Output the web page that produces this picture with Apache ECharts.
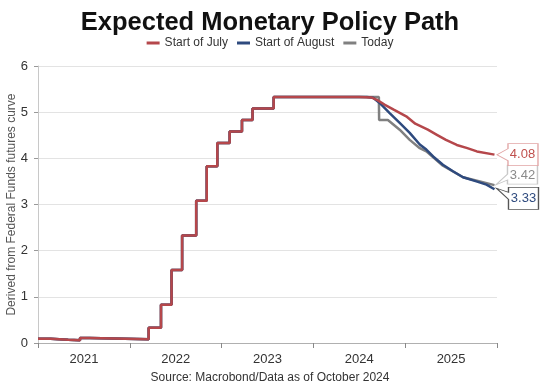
<!DOCTYPE html>
<html><head><meta charset="utf-8">
<script src="https://cdn.jsdelivr.net/npm/echarts@6/dist/echarts.min.js"></script>
<style>html,body{margin:0;padding:0;background:#fff}#c{width:540px;height:386px}</style>
</head><body><div id="c"></div>
<script>
// ---- data ----
const titleText = 'Expected Monetary Policy Path';
const sourceText = 'Source: Macrobond/Data as of October 2024';
const yAxisName = 'Derived from Federal Funds futures curve';
const seriesNames = ['Start of July', 'Start of August', 'Today'];
const yearLabels = ['2021', '2022', '2023', '2024', '2025'];
const yMin = 0, yMax = 6, yStep = 1;
const xMin = 2021, xMax = 2026;

// shared realized history (effective rate levels, each holds from its date)
const histDates = ['2021-01-01','2021-02-20','2021-05-01','2021-06-17','2021-07-26','2022-03-17','2022-05-05','2022-06-16','2022-07-28','2022-09-22','2022-11-03','2022-12-15','2023-02-02','2023-03-23','2023-05-04','2023-07-27'];
const histValues = [0.09, 0.07, 0.06, 0.11, 0.08, 0.33, 0.83, 1.58, 2.33, 3.08, 3.83, 4.33, 4.58, 4.83, 5.08, 5.33];

// Start of July curve
const julyCutoff = '2024-07-01';
const julyDates = ['2024-07-01','2024-08-19','2024-09-12','2024-10-12','2024-11-18','2025-01-05','2025-02-10','2025-04-01','2025-05-07','2025-06-12','2025-07-25','2025-09-05','2025-10-13','2025-12-22'];
const julyValues = [5.33, 5.32, 5.26, 5.16, 5.05, 4.91, 4.75, 4.62, 4.51, 4.40, 4.29, 4.22, 4.15, 4.08];

// Start of August curve
const augCutoff = '2024-08-01';
const augDates = ['2024-08-01','2024-08-26','2024-09-21','2024-10-31','2024-12-10','2025-01-19','2025-02-28','2025-03-26','2025-04-22','2025-05-31','2025-07-10','2025-08-19','2025-10-11','2025-11-20','2025-12-22'];
const augValues = [5.33, 5.31, 5.20, 4.98, 4.77, 4.55, 4.30, 4.19, 4.04, 3.86, 3.72, 3.59, 3.50, 3.43, 3.33];

// Today curve
const todayCutoff = '2024-09-18';
const todayDates = ['2024-09-18','2024-09-19','2024-10-24','2024-12-10','2025-01-19','2025-02-28','2025-03-26','2025-05-31','2025-08-19','2025-10-25','2025-12-22'];
const todayValues = [5.33, 4.83, 4.83, 4.62, 4.40, 4.22, 4.15, 3.84, 3.59, 3.50, 3.42];

// ---- helpers ----
function toYear(s) {
  const d = new Date(s + 'T00:00:00Z');
  const y = d.getUTCFullYear();
  const a = Date.UTC(y, 0, 1), b = Date.UTC(y + 1, 0, 1);
  return y + (d.getTime() - a) / (b - a);
}
function buildSeries(cutoff, dates, values) {
  const cut = toYear(cutoff);
  const pts = [];
  for (let i = 0; i < histDates.length; i++) {
    const x = toYear(histDates[i]);
    if (x >= cut) break;
    if (i > 0) pts.push([x, histValues[i - 1]]);
    pts.push([x, histValues[i]]);
  }
  for (let i = 0; i < dates.length; i++) pts.push([toYear(dates[i]), values[i]]);
  return pts;
}

const colors = { july: '#b5474b', aug: '#2e4a7e', today: '#808080' };
const FONT = 'Liberation Sans, Arial, sans-serif';

function callout(pts, path, size, offset, labelOffset, textColor, borderColor) {
  const last = pts[pts.length - 1];
  return {
    silent: true,
    symbol: path,
    symbolSize: size,
    symbolOffset: offset,
    symbolKeepAspect: false,
    itemStyle: { color: '#fff', borderColor: borderColor, borderWidth: 1 },
    label: {
      show: true, position: 'inside', offset: labelOffset,
      color: textColor, fontSize: 13, fontFamily: FONT,
      formatter: p => p.value.toFixed(2)
    },
    data: [{ coord: last, value: last[1] }]
  };
}

const julyPts = buildSeries(julyCutoff, julyDates, julyValues);
const augPts = buildSeries(augCutoff, augDates, augValues);
const todayPts = buildSeries(todayCutoff, todayDates, todayValues);

const chart = echarts.init(document.getElementById('c'), null, { renderer: 'canvas' });
chart.setOption({
  animation: false,
  backgroundColor: '#fff',
  title: [
    { text: titleText, left: 'center', top: 5,
      textStyle: { fontFamily: FONT, fontSize: 25.5, fontWeight: 'bold', color: '#111' } },
    { text: sourceText, left: 'center', top: 367,
      textStyle: { fontFamily: FONT, fontSize: 12, fontWeight: 'normal', color: '#333' } }
  ],
  legend: {
    data: seriesNames, top: 32, left: 'center', itemGap: 9,
    itemWidth: 13, itemHeight: 3, icon: 'rect',
    textStyle: { fontFamily: FONT, fontSize: 12, color: '#333' },
    selectedMode: false
  },
  grid: { left: 38, right: 43, top: 66, bottom: 43, containLabel: false, outerBoundsMode: 'none' },
  xAxis: [
    { type: 'value', min: xMin, max: xMax, interval: 1, position: 'bottom',
      axisLine: { show: true, lineStyle: { color: '#b0b0b0' } },
      axisTick: { show: true, length: 5, lineStyle: { color: '#888' } },
      axisLabel: { show: false }, splitLine: { show: false } },
    { type: 'category', data: yearLabels, boundaryGap: true, position: 'bottom',
      axisLine: { show: false }, axisTick: { show: false }, splitLine: { show: false },
      axisLabel: { show: true, margin: 10, fontFamily: FONT, fontSize: 13, color: '#333' } }
  ],
  yAxis: {
    type: 'value', min: yMin, max: yMax, interval: yStep,
    name: yAxisName, nameLocation: 'middle', nameRotate: 90, nameGap: 20,
    nameMoveOverlap: false,
    nameTextStyle: { fontFamily: FONT, fontSize: 12, color: '#555' },
    axisLine: { show: true, lineStyle: { color: '#c8c8c8' } },
    axisTick: { show: true, length: 4, lineStyle: { color: '#999' } },
    axisLabel: { margin: 10, fontFamily: FONT, fontSize: 13, color: '#333' },
    splitLine: { show: true, lineStyle: { color: '#e3e3e3' } }
  },
  series: [
    { name: 'Today', type: 'line', xAxisIndex: 0, data: todayPts, showSymbol: false,
      lineStyle: { color: colors.today, width: 2.5 }, itemStyle: { color: colors.today },
      markPoint: callout(todayPts, 'path://M0 20 L12 9 L12 0 L42 0 L42 19 L12 19 L12 15 Z', [42, 20], [22, -10], [6, 0], '#8a8a8a', '#c8c8c8') },
    { name: 'Start of August', type: 'line', xAxisIndex: 0, data: augPts, showSymbol: false,
      lineStyle: { color: colors.aug, width: 2.5 }, itemStyle: { color: colors.aug },
      markPoint: callout(augPts, 'path://M0 1 L12 5 L12 0 L42 0 L42 22 L12 22 L12 12 Z', [42, 22], [23, 9], [6, 0], colors.aug, '#555') },
    { name: 'Start of July', type: 'line', xAxisIndex: 0, data: julyPts, showSymbol: false,
      lineStyle: { color: colors.july, width: 2.5 }, itemStyle: { color: colors.july },
      markPoint: callout(julyPts, 'path://M0 11 L11 5 L11 0 L41 0 L41 22 L11 22 L11 17 Z', [41, 22], [23, 0], [5, 0], '#c0504d', '#e2a5a5') }
  ]
});
</script>
</body></html>
